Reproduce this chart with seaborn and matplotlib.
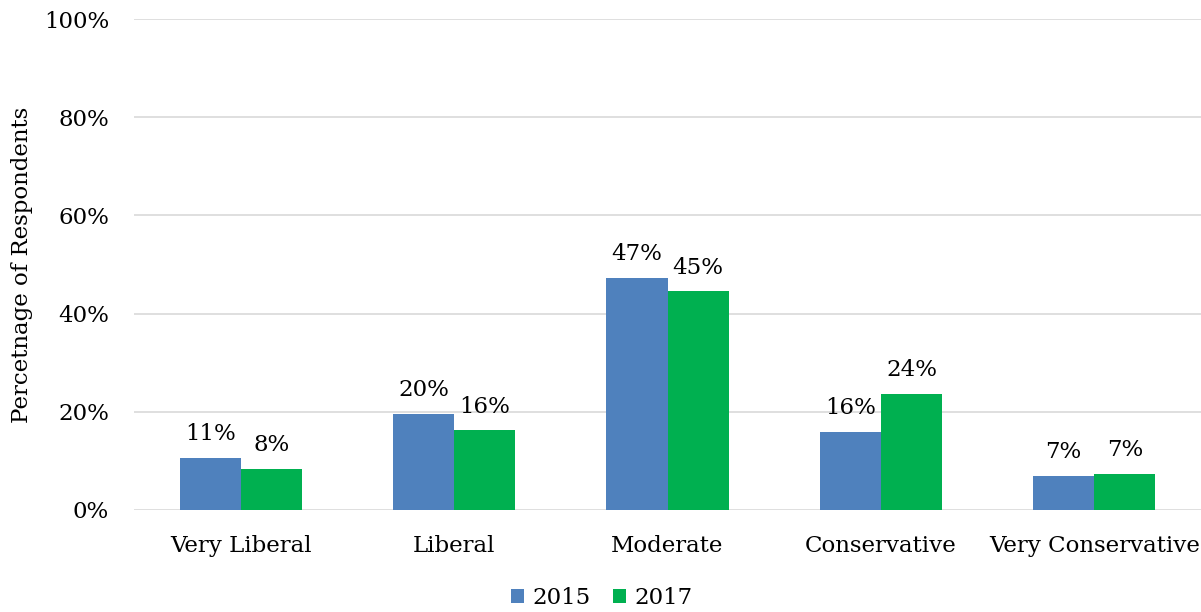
import matplotlib
matplotlib.use("Agg")
import matplotlib.pyplot as plt
import seaborn as sns
import pandas as pd

categories = ["Very Liberal", "Liberal", "Moderate", "Conservative", "Very Conservative"]
years = ["2015", "2017"]
values_2015 = [10.6, 19.6, 47.3, 15.9, 7.0]
values_2017 = [8.4, 16.2, 44.6, 23.7, 7.4]
y_ticks = [0, 20, 40, 60, 80, 100]

df = pd.DataFrame({
    "category": categories * 2,
    "year": [years[0]] * len(categories) + [years[1]] * len(categories),
    "value": values_2015 + values_2017,
})

sns.set_theme(style="white")
plt.rcParams["font.family"] = ["DejaVu Serif"]
plt.rcParams["text.color"] = "black"
plt.rcParams["xtick.color"] = "black"
plt.rcParams["ytick.color"] = "black"
plt.rcParams["axes.labelcolor"] = "black"

FS = 16.5

fig = plt.figure(figsize=(12.01, 6.12), dpi=100)
ax = fig.add_axes([134 / 1201, 1 - 510 / 612, 1 - 134 / 1201, (510 - 19) / 612])

palette = {"2015": "#4F81BD", "2017": "#00B050"}
sns.barplot(data=df, x="category", y="value", hue="year", order=categories,
            hue_order=years, palette=palette, width=0.573, gap=0,
            saturation=1, linewidth=0, ax=ax, legend=True, zorder=3)

for container in ax.containers:
    for bar in container:
        h = bar.get_height()
        ax.annotate(f"{h:.0f}%", (bar.get_x() + bar.get_width() / 2, h),
                    xytext=(0, 9), textcoords="offset points",
                    ha="center", va="bottom", fontsize=FS, color="black")

ax.set_ylim(0, 100)
ax.set_xlim(-0.5, len(categories) - 0.5)
ax.set_yticks(y_ticks)
ax.set_yticklabels([f"{t}%" for t in y_ticks], fontsize=FS)
ax.tick_params(axis="x", labelsize=FS, length=0, pad=18)
ax.tick_params(axis="y", length=0, pad=18)
ax.yaxis.grid(True, color="#D9D9D9", linewidth=1.2, zorder=0)
ax.set_axisbelow(True)
for s in ax.spines.values():
    s.set_visible(False)
ax.set_xlabel("")
ax.set_ylabel("Percetnage of Respondents", fontsize=FS, labelpad=8)

leg = ax.legend(loc="center", bbox_to_anchor=(602 / 1201, 1 - 598 / 612),
                bbox_transform=fig.transFigure, ncol=2, frameon=False,
                fontsize=FS, handlelength=0.55, handleheight=0.55,
                handletextpad=0.4, columnspacing=0.95)

fig.savefig("out.png", dpi=100)
